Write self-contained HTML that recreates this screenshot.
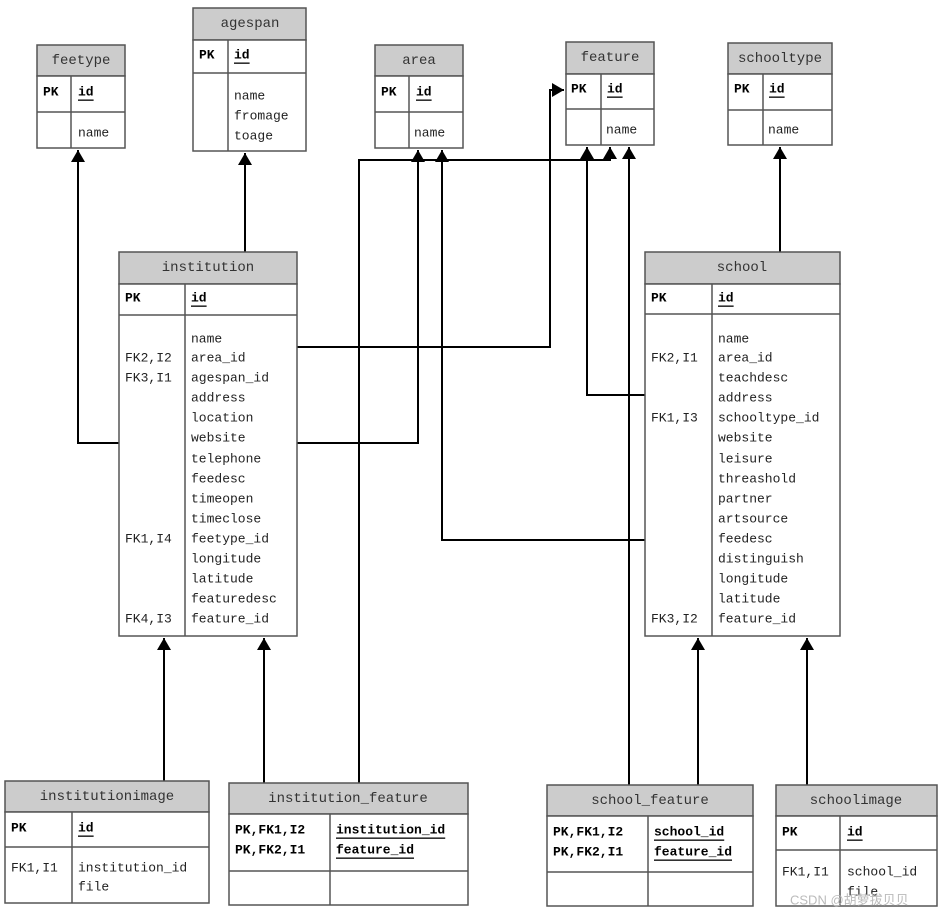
<!DOCTYPE html>
<html><head><meta charset="utf-8"><style>
html,body{margin:0;padding:0;background:#fff}
svg{display:block}
text{font-family:"Liberation Mono",monospace;font-size:13px;fill:#222}
.h{font-size:14px;fill:#333}
.b{font-weight:bold;fill:#000}
</style></head><body>
<svg width="947" height="916" viewBox="0 0 947 916" xmlns="http://www.w3.org/2000/svg">
<defs>
<marker id="a" markerWidth="14" markerHeight="14" refX="12" refY="7" orient="auto" markerUnits="userSpaceOnUse"><path d="M0,0 L12,7 L0,14 Z" fill="#000"/></marker>
</defs>
<g fill="none" stroke="#000" stroke-width="2">
<!-- connectors -->
<polyline points="119,443 78,443 78,150" marker-end="url(#a)"/>
<polyline points="245,252 245,153" marker-end="url(#a)"/>
<polyline points="297,347 550,347 550,90 564,90" marker-end="url(#a)"/>
<polyline points="297,443 418,443 418,150" marker-end="url(#a)"/>
<polyline points="359,783 359,160 610,160 610,147" marker-end="url(#a)"/>
<polyline points="645,395 587,395 587,147" marker-end="url(#a)"/>
<polyline points="629,785 629,147" marker-end="url(#a)"/>
<polyline points="645,540 442,540 442,150" marker-end="url(#a)"/>
<polyline points="780,252 780,147" marker-end="url(#a)"/>
<polyline points="164,781 164,638" marker-end="url(#a)"/>
<polyline points="264,783 264,638" marker-end="url(#a)"/>
<polyline points="698,785 698,638" marker-end="url(#a)"/>
<polyline points="807,785 807,638" marker-end="url(#a)"/>
</g>
<g stroke="#555" stroke-width="1.5">
<!-- feetype -->
<rect x="37" y="45" width="88" height="31" fill="#ccc"/><rect x="37" y="76" width="88" height="72" fill="#fff"/>
<line x1="37" y1="112" x2="125" y2="112"/><line x1="71" y1="76" x2="71" y2="148"/>
<!-- agespan -->
<rect x="193" y="8" width="113" height="32" fill="#ccc"/><rect x="193" y="40" width="113" height="111" fill="#fff"/>
<line x1="193" y1="73" x2="306" y2="73"/><line x1="228" y1="40" x2="228" y2="151"/>
<!-- area -->
<rect x="375" y="45" width="88" height="31" fill="#ccc"/><rect x="375" y="76" width="88" height="72" fill="#fff"/>
<line x1="375" y1="112" x2="463" y2="112"/><line x1="409" y1="76" x2="409" y2="148"/>
<!-- feature -->
<rect x="566" y="42" width="88" height="32" fill="#ccc"/><rect x="566" y="74" width="88" height="71" fill="#fff"/>
<line x1="566" y1="109" x2="654" y2="109"/><line x1="601" y1="74" x2="601" y2="145"/>
<!-- schooltype -->
<rect x="728" y="43" width="104" height="31" fill="#ccc"/><rect x="728" y="74" width="104" height="71" fill="#fff"/>
<line x1="728" y1="110" x2="832" y2="110"/><line x1="763" y1="74" x2="763" y2="145"/>
<!-- institution -->
<rect x="119" y="252" width="178" height="32" fill="#ccc"/><rect x="119" y="284" width="178" height="352" fill="#fff"/>
<line x1="119" y1="315" x2="297" y2="315"/><line x1="185" y1="284" x2="185" y2="636"/>
<!-- school -->
<rect x="645" y="252" width="195" height="32" fill="#ccc"/><rect x="645" y="284" width="195" height="352" fill="#fff"/>
<line x1="645" y1="314" x2="840" y2="314"/><line x1="712" y1="284" x2="712" y2="636"/>
<!-- institutionimage -->
<rect x="5" y="781" width="204" height="31" fill="#ccc"/><rect x="5" y="812" width="204" height="91" fill="#fff"/>
<line x1="5" y1="847" x2="209" y2="847"/><line x1="72" y1="812" x2="72" y2="903"/>
<!-- institution_feature -->
<rect x="229" y="783" width="239" height="31" fill="#ccc"/><rect x="229" y="814" width="239" height="91" fill="#fff"/>
<line x1="229" y1="871" x2="468" y2="871"/><line x1="330" y1="814" x2="330" y2="905"/>
<!-- school_feature -->
<rect x="547" y="785" width="206" height="31" fill="#ccc"/><rect x="547" y="816" width="206" height="90" fill="#fff"/>
<line x1="547" y1="872" x2="753" y2="872"/><line x1="648" y1="816" x2="648" y2="906"/>
<!-- schoolimage -->
<rect x="776" y="785" width="161" height="31" fill="#ccc"/><rect x="776" y="816" width="161" height="90" fill="#fff"/>
<line x1="776" y1="850" x2="937" y2="850"/><line x1="840" y1="816" x2="840" y2="906"/>
</g>
<g dominant-baseline="central">
<text class="h" x="81" y="61" text-anchor="middle">feetype</text>
<text class="b" x="43" y="92">PK</text><text class="b" x="78" y="92" text-decoration="underline">id</text>
<text x="78" y="133">name</text>

<text class="h" x="250" y="24" text-anchor="middle">agespan</text>
<text class="b" x="199" y="55">PK</text><text class="b" x="234" y="55" text-decoration="underline">id</text>
<text x="234" y="96">name</text><text x="234" y="116">fromage</text><text x="234" y="136">toage</text>

<text class="h" x="419" y="61" text-anchor="middle">area</text>
<text class="b" x="381" y="92">PK</text><text class="b" x="416" y="92" text-decoration="underline">id</text>
<text x="414" y="133">name</text>

<text class="h" x="610" y="58" text-anchor="middle">feature</text>
<text class="b" x="571" y="89">PK</text><text class="b" x="607" y="89" text-decoration="underline">id</text>
<text x="606" y="130">name</text>

<text class="h" x="780" y="59" text-anchor="middle">schooltype</text>
<text class="b" x="734" y="89">PK</text><text class="b" x="769" y="89" text-decoration="underline">id</text>
<text x="768" y="130">name</text>

<text class="h" x="208" y="268" text-anchor="middle">institution</text>
<text class="b" x="125" y="298">PK</text><text class="b" x="191" y="298" text-decoration="underline">id</text>
<text x="191" y="339">name</text>
<text x="125" y="358">FK2,I2</text><text x="191" y="358">area_id</text>
<text x="125" y="378">FK3,I1</text><text x="191" y="378">agespan_id</text>
<text x="191" y="398">address</text>
<text x="191" y="418">location</text>
<text x="191" y="438">website</text>
<text x="191" y="459">telephone</text>
<text x="191" y="479">feedesc</text>
<text x="191" y="499">timeopen</text>
<text x="191" y="519">timeclose</text>
<text x="125" y="539">FK1,I4</text><text x="191" y="539">feetype_id</text>
<text x="191" y="559">longitude</text>
<text x="191" y="579">latitude</text>
<text x="191" y="599">featuredesc</text>
<text x="125" y="619">FK4,I3</text><text x="191" y="619">feature_id</text>

<text class="h" x="742" y="268" text-anchor="middle">school</text>
<text class="b" x="651" y="298">PK</text><text class="b" x="718" y="298" text-decoration="underline">id</text>
<text x="718" y="339">name</text>
<text x="651" y="358">FK2,I1</text><text x="718" y="358">area_id</text>
<text x="718" y="378">teachdesc</text>
<text x="718" y="398">address</text>
<text x="651" y="418">FK1,I3</text><text x="718" y="418">schooltype_id</text>
<text x="718" y="438">website</text>
<text x="718" y="459">leisure</text>
<text x="718" y="479">threashold</text>
<text x="718" y="499">partner</text>
<text x="718" y="519">artsource</text>
<text x="718" y="539">feedesc</text>
<text x="718" y="559">distinguish</text>
<text x="718" y="579">longitude</text>
<text x="718" y="599">latitude</text>
<text x="651" y="619">FK3,I2</text><text x="718" y="619">feature_id</text>

<text class="h" x="107" y="797" text-anchor="middle">institutionimage</text>
<text class="b" x="11" y="828">PK</text><text class="b" x="78" y="828" text-decoration="underline">id</text>
<text x="11" y="868">FK1,I1</text><text x="78" y="868">institution_id</text>
<text x="78" y="887">file</text>

<text class="h" x="348" y="799" text-anchor="middle">institution_feature</text>
<text class="b" x="235" y="830">PK,FK1,I2</text><text class="b" x="336" y="830" text-decoration="underline">institution_id</text>
<text class="b" x="235" y="850">PK,FK2,I1</text><text class="b" x="336" y="850" text-decoration="underline">feature_id</text>

<text class="h" x="650" y="801" text-anchor="middle">school_feature</text>
<text class="b" x="553" y="832">PK,FK1,I2</text><text class="b" x="654" y="832" text-decoration="underline">school_id</text>
<text class="b" x="553" y="852">PK,FK2,I1</text><text class="b" x="654" y="852" text-decoration="underline">feature_id</text>

<text class="h" x="856" y="801" text-anchor="middle">schoolimage</text>
<text class="b" x="782" y="832">PK</text><text class="b" x="847" y="832" text-decoration="underline">id</text>
<text x="782" y="872">FK1,I1</text><text x="847" y="872">school_id</text>
<text x="847" y="892">file</text>
<text x="790" y="900" style="font-family:'Liberation Sans','Noto Sans CJK SC',sans-serif;font-size:13px;fill:#bbb">CSDN @胡萝拔贝贝</text>
</g>
</svg>
</body></html>
